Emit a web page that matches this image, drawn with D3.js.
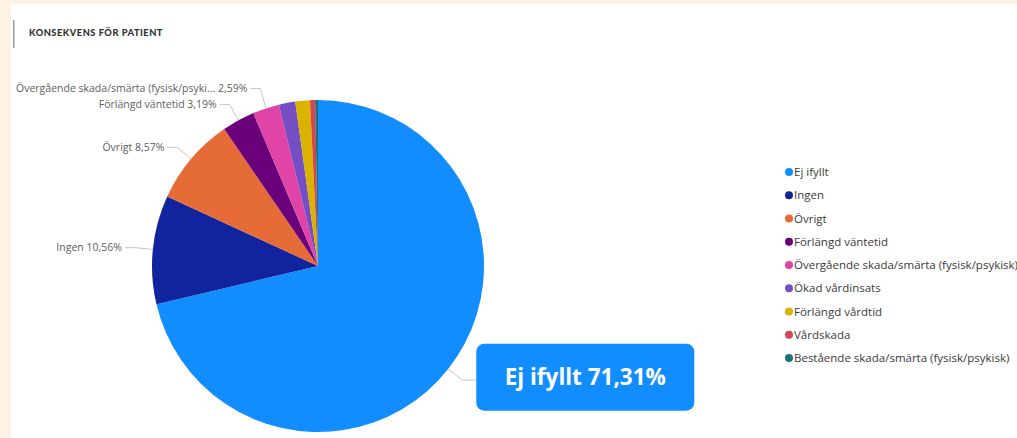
<!DOCTYPE html>
<html>
<head>
<meta charset="utf-8">
<script src="https://cdn.jsdelivr.net/npm/d3@7"></script>
<style>
  html, body { margin: 0; padding: 0; background: #fdf3e4; }
  #chart { position: absolute; left: 11px; top: 4px; width: 1006px; height: 434px; background: #fff; overflow: hidden; }
  svg { display: block; }
</style>
</head>
<body>
<div id="chart"></div>
<script>
  // ---------- data ----------
  var categories = ['Ej ifyllt', 'Ingen', 'Övrigt', 'Förlängd väntetid', 'Övergående skada/smärta (fysisk/psykisk)', 'Ökad vårdinsats', 'Förlängd vårdtid', 'Vårdskada', 'Bestående skada/smärta (fysisk/psykisk)'];
  var values = [71.31, 10.56, 8.57, 3.19, 2.59, 1.59, 1.42, 0.50, 0.27];
  var colors = ['#118DFF', '#12239E', '#E66C37', '#6B007B', '#E044A7', '#744EC2', '#D9B300', '#D64550', '#197278'];
  var labelText = ['Ej ifyllt', 'Ingen', 'Övrigt', 'Förlängd väntetid', 'Övergående skada/smärta (fysisk/psyki...', '', '', '', ''];
  var title = 'KONSEKVENS FÖR PATIENT';

  var W = 1006, H = 434, FONT = '"Segoe UI", "Open Sans", sans-serif';
  var fmt = function (v) { return v.toFixed(2).replace('.', ',') + '%'; };
  var svg = d3.select('#chart').append('svg').attr('width', W).attr('height', H);

  // ---------- title ----------
  svg.append('rect').attr('x', 2).attr('y', 16).attr('width', 1.5).attr('height', 28).attr('fill', '#9a9a9a');
  svg.append('text').attr('x', 18).attr('y', 32).attr('font-family', 'Lato, "Open Sans", sans-serif').attr('font-weight', 900)
    .attr('font-size', 9.3).attr('letter-spacing', 0.5).attr('fill', '#333').text(title);

  // ---------- pie ----------
  var cx = 307, cy = 262, R = 166;
  var data = categories.map(function (c, i) { return { name: c, v: values[i], c: colors[i], label: labelText[i] }; });
  var arcs = d3.pie().sort(null).value(function (d) { return d.v; })(data);
  var arc = d3.arc().innerRadius(0).outerRadius(R);
  var g = svg.append('g').attr('transform', 'translate(' + cx + ',' + cy + ')');
  g.selectAll('path').data(arcs).join('path').attr('d', arc).attr('fill', function (d) { return d.data.c; });

  function pt(a, r) { return [Math.sin(a) * r, -Math.cos(a) * r]; }

  // left-side labels, pushed apart from the bottom up
  var left = arcs.filter(function (d, i) { return i > 0 && d.data.label; }).map(function (d) {
    var m = (d.startAngle + d.endAngle) / 2;
    return { d: d, p0: pt(m, R), p1: pt(m, R + 18) };
  });
  var last = 1e9;
  left.forEach(function (l) { l.y = Math.min(l.p1[1], last - 16); last = l.y; });
  var gl = svg.append('g').attr('transform', 'translate(' + cx + ',' + cy + ')');
  left.forEach(function (l) {
    var ex = l.p1[0], ey = l.y;
    gl.append('path').attr('d', 'M' + l.p0[0] + ',' + l.p0[1] + 'L' + ex + ',' + ey + 'L' + (ex - 10) + ',' + ey)
      .attr('fill', 'none').attr('stroke', '#c8c6c4').attr('stroke-width', 1);
    gl.append('text').attr('x', ex - 13).attr('y', ey).attr('dy', '.35em').attr('text-anchor', 'end')
      .attr('font-family', FONT).attr('font-size', 10.5).attr('fill', '#605E5C')
      .text(l.d.data.label + ' ' + fmt(l.d.data.v));
  });

  // big callout for the main slice
  var a0 = arcs[0], m0 = (a0.startAngle + a0.endAngle) / 2;
  var q0 = pt(m0, R), q1 = pt(m0, R + 18);
  gl.append('path').attr('d', 'M' + q0[0] + ',' + q0[1] + 'L' + q1[0] + ',' + q1[1] + 'L' + (q1[0] + 14) + ',' + q1[1])
    .attr('fill', 'none').attr('stroke', '#c8c6c4').attr('stroke-width', 1);
  var bw = 218, bh = 67, by0 = q1[1] - 3;
  gl.append('rect').attr('x', q1[0] + 14).attr('y', by0 - bh / 2).attr('width', bw).attr('height', bh).attr('rx', 8)
    .attr('fill', a0.data.c);
  gl.append('text').attr('x', q1[0] + 14 + bw / 2).attr('y', by0).attr('dy', '.36em').attr('text-anchor', 'middle')
    .attr('font-family', FONT).attr('font-weight', 700).attr('font-size', 22.5).attr('fill', '#fff')
    .text(a0.data.name + ' ' + fmt(a0.data.v));

  // ---------- legend ----------
  var ly = d3.scalePoint().domain(categories).range([168, 354]);
  var lg = svg.append('g').selectAll('g').data(data).join('g')
    .attr('transform', function (d) { return 'translate(778,' + ly(d.name) + ')'; });
  lg.append('circle').attr('r', 4).attr('fill', function (d) { return d.c; });
  lg.append('text').attr('x', 5).attr('dy', '.35em').attr('font-family', FONT).attr('font-size', 11.5).attr('fill', '#3b3a39')
    .text(function (d) { return d.name; });
</script>
</body>
</html>
